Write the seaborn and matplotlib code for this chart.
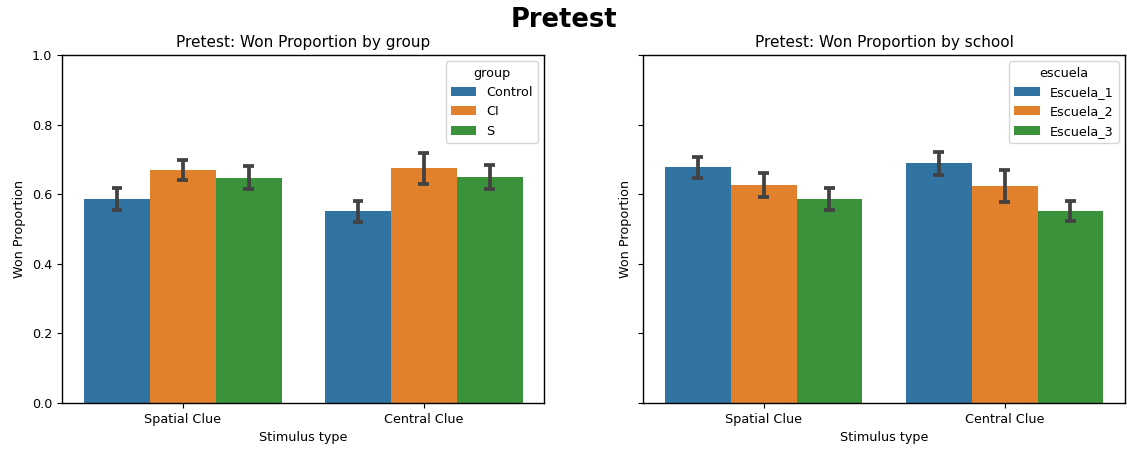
import matplotlib
matplotlib.use("Agg")
import matplotlib.pyplot as plt
import seaborn as sns
import pandas as pd

stimulus = ["Spatial Clue", "Central Clue"]

groups = ["Control", "CI", "S"]
group_mean = {"Control": [0.587, 0.551], "CI": [0.671, 0.675], "S": [0.647, 0.649]}
group_lo = {"Control": [0.556, 0.519], "CI": [0.640, 0.629], "S": [0.614, 0.615]}
group_hi = {"Control": [0.619, 0.581], "CI": [0.698, 0.717], "S": [0.680, 0.685]}

schools = ["Escuela_1", "Escuela_2", "Escuela_3"]
school_mean = {"Escuela_1": [0.679, 0.690], "Escuela_2": [0.627, 0.624], "Escuela_3": [0.587, 0.551]}
school_lo = {"Escuela_1": [0.647, 0.654], "Escuela_2": [0.591, 0.578], "Escuela_3": [0.556, 0.522]}
school_hi = {"Escuela_1": [0.706, 0.720], "Escuela_2": [0.662, 0.669], "Escuela_3": [0.618, 0.581]}


def build(levels, mean, lo, hi, hue_name):
    rows = []
    for lv in levels:
        for i, s in enumerate(stimulus):
            rows.append({"Stimulus type": s, hue_name: lv, "Won Proportion": mean[lv][i],
                         "lo": lo[lv][i], "hi": hi[lv][i]})
    return pd.DataFrame(rows)


sns.set_style("white")
plt.rcParams["font.family"] = ["DejaVu Sans"]
plt.rcParams["font.size"] = 9.2
plt.rcParams["text.color"] = "black"
plt.rcParams["axes.labelcolor"] = "black"
plt.rcParams["xtick.color"] = "black"
plt.rcParams["ytick.color"] = "black"

fig, axes = plt.subplots(1, 2, figsize=(11.27, 4.49), dpi=100, sharey=True)
fig.subplots_adjust(left=0.055, right=0.9985, top=0.8775, bottom=0.1024, wspace=0.204)

panels = [
    (axes[0], build(groups, group_mean, group_lo, group_hi, "group"), "group", groups,
     "Pretest: Won Proportion by group"),
    (axes[1], build(schools, school_mean, school_lo, school_hi, "escuela"), "escuela", schools,
     "Pretest: Won Proportion by school"),
]

for ax, df, hue, levels, title in panels:
    sns.barplot(data=df, x="Stimulus type", y="Won Proportion", hue=hue, hue_order=levels,
                order=stimulus, errorbar=None, ax=ax, saturation=0.75, width=0.82, linewidth=0)
    for container, lv in zip(ax.containers, levels):
        sub = df[df[hue] == lv].set_index("Stimulus type").loc[stimulus]
        for bar, (_, r) in zip(container, sub.iterrows()):
            xc = bar.get_x() + bar.get_width() / 2
            ax.vlines(xc, r["lo"], r["hi"], color=".26", linewidth=2.7, zorder=3)
            ax.hlines([r["lo"], r["hi"]], xc - 0.022, xc + 0.022, color=".26", linewidth=2.7, zorder=3)
    ax.set_title(title, fontsize=11, color="black")
    ax.set_ylim(0, 1.0)
    ax.set_ylabel("Won Proportion", fontsize=9.2)
    ax.set_xlabel("Stimulus type", fontsize=9.2)
    for sp in ax.spines.values():
        sp.set_color("black")
        sp.set_linewidth(1.0)
    ax.tick_params(axis="both", which="both", bottom=True, left=True, length=3.5, width=0.8,
                   colors="black", labelsize=9.2)
    ax.legend(title=hue, loc="upper right", fontsize=9.2, title_fontsize=9.2)

axes[1].tick_params(labelleft=False)
axes[1].yaxis.label.set_visible(True)
fig.suptitle("Pretest", fontsize=18.5, fontweight="bold", y=0.985, color="black")
fig.savefig("out.png", dpi=100)
